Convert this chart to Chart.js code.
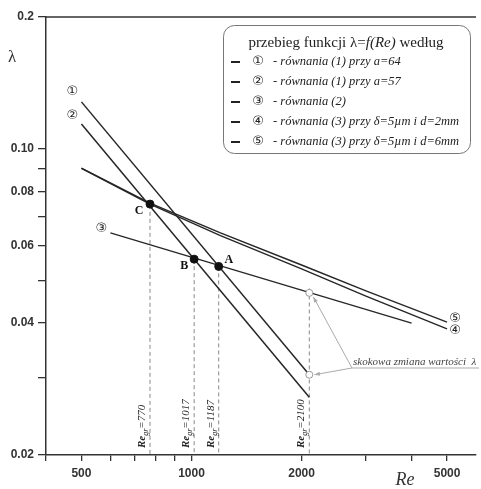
<!DOCTYPE html>
<html><head><meta charset="utf-8">
<script src="https://cdn.jsdelivr.net/npm/chart.js@4/dist/chart.umd.min.js"></script>
<style>html,body{margin:0;padding:0;background:#fff;}#wrap{width:481px;height:489px;}</style>
</head><body><div id="wrap"><canvas id="c" width="481" height="489"></canvas></div>
<script>
// ---- data ----
const re1 = [500, 2100];            const lam1 = [0.128, 0.0305];   // (1) a=64
const re2 = [500, 2100];            const lam2 = [0.114, 0.0271];   // (1) a=57
const re3 = [600, 4000];            const lam3 = [0.0643, 0.0400];  // (2)
const re45 = [500, 770, 1200, 2000, 3000, 5000];
const lam4 = [0.0902, 0.0748, 0.0634, 0.0532, 0.0461, 0.0388];   // (3) d=2mm
const lam5 = [0.0904, 0.0752, 0.0643, 0.0543, 0.0474, 0.0402];   // (3) d=6mm
const grRe = [770, 1017, 1187, 2100];
const grTop = [0.0745, 0.056, 0.0539, 0.048];
const grLabels = ['770', '1017', '1187', '2100'];
const ptRe = [1187, 1017, 770];
const ptLam = [0.0539, 0.056, 0.0748];
const ptNames = ['A', 'B', 'C'];
const jumpRe = [2100, 2100];
const jumpLam = [0.0469, 0.0305];
const xTicks = [400, 500, 600, 700, 800, 900, 1000, 2000, 3000, 4000, 5000];
const xTickLabels = {500: '500', 1000: '1000', 2000: '2000', 5000: '5000'};
const yTicks = [0.02, 0.03, 0.04, 0.05, 0.06, 0.07, 0.08, 0.09, 0.1, 0.2];
const yTickLabels = {0.02: '0.02', 0.04: '0.04', 0.06: '0.06', 0.08: '0.08', 0.1: '0.10', 0.2: '0.2'};
const legendMarks = ['①', '②', '③', '④', '⑤'];
const legendTexts = ['- równania (1) przy a=64', '- równania (1) przy a=57', '- równania (2)',
  '- równania (3) przy δ=5µm i d=2mm', '- równania (3) przy δ=5µm i d=6mm'];
const annotText = 'skokowa zmiana wartości  λ';

const pts = (xs, ys) => xs.map((x, i) => ({x: x, y: ys[i]}));
const LINE = '#262626';
function lineDs(data, w) {
  return {data: data, borderColor: LINE, borderWidth: w || 1.5, pointRadius: 0, tension: 0, fill: false, order: 5};
}
const datasets = [
  lineDs(pts(re1, lam1)), lineDs(pts(re2, lam2)), lineDs(pts(re3, lam3), 1.3),
  lineDs(pts(re45, lam4), 1.4), lineDs(pts(re45, lam5), 1.4)
];
grRe.forEach((r, i) => datasets.push({data: [{x: r, y: grTop[i]}, {x: r, y: 0.02}], borderColor: '#888',
  borderWidth: 1, borderDash: [4, 3], pointRadius: 0, fill: false, order: 10}));
datasets.push({data: pts(ptRe, ptLam), showLine: false, pointRadius: 4, pointBackgroundColor: '#111',
  pointBorderColor: '#111', borderColor: '#111', order: 0});
datasets.push({data: pts(jumpRe, jumpLam), showLine: false, pointRadius: 3.5, pointBackgroundColor: '#fff',
  pointBorderColor: '#999', pointBorderWidth: 1, borderColor: '#999', order: 0});

const deco = {
  id: 'deco',
  afterDraw(chart) {
    const ctx = chart.ctx, a = chart.chartArea, xs = chart.scales.x, ys = chart.scales.y;
    const px = v => xs.getPixelForValue(v), py = v => ys.getPixelForValue(v);
    ctx.save();
    // top border
    ctx.strokeStyle = '#333'; ctx.lineWidth = 1.5;
    ctx.beginPath(); ctx.moveTo(a.left, a.top); ctx.lineTo(a.right, a.top); ctx.stroke();
    // axis titles
    ctx.fillStyle = '#333'; ctx.textAlign = 'center'; ctx.textBaseline = 'middle';
    ctx.font = '17px "Liberation Serif"'; ctx.fillText('λ', 12, 58);
    ctx.font = 'italic 18px "Liberation Serif"'; ctx.fillText('Re', 405, 480);
    // circled labels
    ctx.font = '13px "DejaVu Sans"'; ctx.fillStyle = '#222';
    ctx.fillText('①', px(re1[0]) - 9, py(lam1[0]) - 10);
    ctx.fillText('②', px(re2[0]) - 9, py(lam2[0]) - 8);
    ctx.fillText('③', px(re3[0]) - 9, py(lam3[0]) - 4);
    ctx.fillText('⑤', px(re45[5]) + 8, py(lam5[5]) - 4);
    ctx.fillText('④', px(re45[5]) + 8, py(lam4[5]) + 2);
    // point names
    ctx.font = 'bold 12px "Liberation Serif"'; ctx.fillStyle = '#111';
    const offs = [[10, -7], [-10, 7], [-11, 7]];
    ptNames.forEach((n, i) => ctx.fillText(n, px(ptRe[i]) + offs[i][0], py(ptLam[i]) + offs[i][1]));
    // rotated Re_gr labels
    ctx.fillStyle = '#222'; ctx.textAlign = 'left'; ctx.textBaseline = 'alphabetic';
    grRe.forEach((r, i) => {
      ctx.save(); ctx.translate(px(r) - 5, 448); ctx.rotate(-Math.PI / 2);
      ctx.font = 'bold italic 11px "Liberation Serif"'; ctx.fillText('Re', 0, 0);
      let w = ctx.measureText('Re').width;
      ctx.font = 'italic 8px "Liberation Serif"'; ctx.fillText('gr', w, 3);
      w += ctx.measureText('gr').width;
      ctx.font = 'italic 11px "Liberation Serif"'; ctx.fillText('=' + grLabels[i], w, 0);
      ctx.restore();
    });
    // annotation
    const ax = 352, ay = 368;
    ctx.strokeStyle = '#aaa'; ctx.fillStyle = '#aaa'; ctx.lineWidth = 1;
    ctx.beginPath(); ctx.moveTo(ax, ay); ctx.lineTo(479, ay); ctx.stroke();
    function arrow(tx, ty) {
      ctx.beginPath(); ctx.moveTo(ax, ay); ctx.lineTo(tx, ty); ctx.stroke();
      const ang = Math.atan2(ty - ay, tx - ax), L = 6, s = 0.35;
      ctx.beginPath(); ctx.moveTo(tx, ty);
      ctx.lineTo(tx - L * Math.cos(ang - s), ty - L * Math.sin(ang - s));
      ctx.lineTo(tx - L * Math.cos(ang + s), ty - L * Math.sin(ang + s));
      ctx.closePath(); ctx.fill();
    }
    arrow(px(jumpRe[0]) + 4, py(jumpLam[0]) + 4);
    arrow(px(jumpRe[1]) + 5, py(jumpLam[1]));
    ctx.fillStyle = '#444'; ctx.font = 'italic 11px "Liberation Serif"';
    ctx.fillText(annotText, 353, 365);
    // legend box
    ctx.strokeStyle = '#777'; ctx.lineWidth = 1; ctx.fillStyle = '#fff';
    ctx.beginPath(); ctx.roundRect(223.5, 25.5, 247, 128, 11); ctx.fill(); ctx.stroke();
    ctx.fillStyle = '#222'; ctx.textBaseline = 'middle';
    const t1 = 'przebieg funkcji λ=', t2 = 'f(Re)', t3 = ' według';
    ctx.font = '15px "Liberation Serif"'; const w1 = ctx.measureText(t1).width, w3 = ctx.measureText(t3).width;
    ctx.font = 'italic 15px "Liberation Serif"'; const w2 = ctx.measureText(t2).width;
    const sx = 346 - (w1 + w2 + w3) / 2; ctx.textAlign = 'left';
    ctx.font = '15px "Liberation Serif"'; ctx.fillText(t1, sx, 43);
    ctx.font = 'italic 15px "Liberation Serif"'; ctx.fillText(t2, sx + w1, 43);
    ctx.font = '15px "Liberation Serif"'; ctx.fillText(t3, sx + w1 + w2, 43);
    legendTexts.forEach((t, i) => {
      const y = 62 + i * 20;
      ctx.strokeStyle = '#222'; ctx.lineWidth = 2;
      ctx.beginPath(); ctx.moveTo(231, y); ctx.lineTo(240, y); ctx.stroke();
      ctx.textAlign = 'center'; ctx.font = '13px "DejaVu Sans"'; ctx.fillText(legendMarks[i], 258, y);
      ctx.textAlign = 'left'; ctx.font = 'italic 12.5px "Liberation Serif"'; ctx.fillText(t, 273, y);
    });
    ctx.restore();
  }
};

new Chart(document.getElementById('c'), {
  type: 'line',
  data: {datasets: datasets},
  options: {
    responsive: false, animation: false, devicePixelRatio: 1,
    layout: {padding: {top: 17, left: 0, right: 0, bottom: 0}},
    plugins: {legend: {display: false}, tooltip: {enabled: false}},
    scales: {
      x: {
        type: 'logarithmic', min: 400, max: 6000, position: 'bottom',
        grid: {drawOnChartArea: false, drawTicks: true, tickLength: 6, color: '#333', lineWidth: 1.3},
        border: {color: '#333', width: 1.5},
        ticks: {font: {family: 'Liberation Sans', weight: 'bold', size: 12}, color: '#333', padding: 5,
          autoSkip: false, maxRotation: 0, callback: v => xTickLabels[v] || ''},
        afterBuildTicks: s => { s.ticks = xTicks.map(v => ({value: v})); },
        afterFit: s => { s.height = 34; }
      },
      y: {
        type: 'logarithmic', min: 0.02, max: 0.2, position: 'left',
        grid: {drawOnChartArea: false, drawTicks: true, tickLength: 8, color: '#333', lineWidth: 1.3},
        border: {color: '#333', width: 1.5},
        ticks: {font: {family: 'Liberation Sans', weight: 'bold', size: 12}, color: '#333', padding: 4,
          autoSkip: false, callback: v => yTickLabels[v] || ''},
        afterBuildTicks: s => { s.ticks = yTicks.map(v => ({value: v})); },
        afterFit: s => { s.width = 46; }
      }
    }
  },
  plugins: [deco]
});
</script></body></html>
